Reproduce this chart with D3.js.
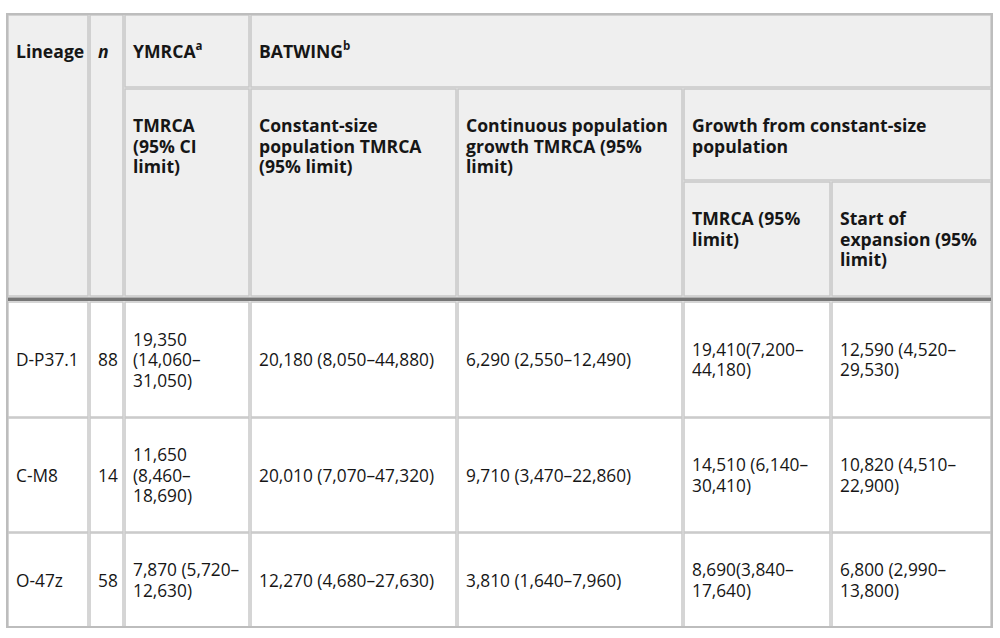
<!DOCTYPE html>
<html>
<head>
<meta charset="utf-8">
<script src="https://cdn.jsdelivr.net/npm/d3@7"></script>
<style>
  body { margin: 0; background: #fff; }
  svg { display: block; }
</style>
</head>
<body>
<div id="chart-area"></div>
<script>
// table data
var lineages = ["D-P37.1", "C-M8", "O-47z"];
var sampleSizes = ["88", "14", "58"];
var ymrcaTmrca = ["19,350 (14,060–31,050)", "11,650 (8,460–18,690)", "7,870 (5,720–12,630)"];
var constantSize = ["20,180 (8,050–44,880)", "20,010 (7,070–47,320)", "12,270 (4,680–27,630)"];
var continuousGrowth = ["6,290 (2,550–12,490)", "9,710 (3,470–22,860)", "3,810 (1,640–7,960)"];
var growthTmrca = ["19,410(7,200–44,180)", "14,510 (6,140–30,410)", "8,690(3,840–17,640)"];
var expansionStart = ["12,590 (4,520–29,530)", "10,820 (4,510–22,900)", "6,800 (2,990–13,800)"];

// header labels (c0..c1 columns, r0..r1 header rows)
var headers = [
    {lines: ["Lineage"], c0: 0, c1: 1, r0: 0, r1: 3},
    {lines: ["n"], c0: 1, c1: 2, r0: 0, r1: 3, italic: true},
    {lines: ["YMRCA"], sup: "a", c0: 2, c1: 3, r0: 0, r1: 1},
    {lines: ["BATWING"], sup: "b", c0: 3, c1: 7, r0: 0, r1: 1},
    {lines: ["TMRCA", "(95% CI", "limit)"], c0: 2, c1: 3, r0: 1, r1: 3},
    {lines: ["Constant-size", "population TMRCA", "(95% limit)"], c0: 3, c1: 4, r0: 1, r1: 3},
    {lines: ["Continuous population", "growth TMRCA (95%", "limit)"], c0: 4, c1: 5, r0: 1, r1: 3},
    {lines: ["Growth from constant-size", "population"], c0: 5, c1: 7, r0: 1, r1: 2},
    {lines: ["TMRCA (95%", "limit)"], c0: 5, c1: 6, r0: 2, r1: 3},
    {lines: ["Start of", "expansion (95%", "limit)"], c0: 6, c1: 7, r0: 2, r1: 3}
];

var columns = [lineages, sampleSizes, ymrcaTmrca, constantSize, continuousGrowth, growthTmrca, expansionStart];

// layout
var colEdges = [7, 89, 124, 250, 457, 683, 831, 992];
var headEdges = [14, 88, 181, 297];
var bodyEdges = [301, 417, 532, 627];
var wrapWidth = [70, 30, 110, 190, 210, 134, 146];
var lineH = 20.5;
var font = "'Open Sans', 'Noto Sans', sans-serif";
var bodySize = 17.3;
var headSize = 17.6;

var svg = d3.select("#chart-area").append("svg")
    .attr("width", 1000)
    .attr("height", 638);

var x = d3.scaleOrdinal().domain(d3.range(8)).range(colEdges);
var yHead = d3.scaleOrdinal().domain(d3.range(4)).range(headEdges);
var yBody = d3.scaleOrdinal().domain(d3.range(4)).range(bodyEdges);

function draw() {
    // header background
    svg.append("rect")
        .attr("x", colEdges[0]).attr("y", headEdges[0])
        .attr("width", colEdges[7] - colEdges[0])
        .attr("height", headEdges[3] - headEdges[0])
        .attr("fill", "#efefef");

    // header cells
    var hCells = svg.selectAll(".hcell")
        .data(headers)
        .enter().append("g")
        .attr("class", "hcell");

    hCells.append("rect")
        .attr("x", (d) => x(d.c0) + 1)
        .attr("y", (d) => yHead(d.r0) + 1)
        .attr("width", (d) => x(d.c1) - x(d.c0) - 2)
        .attr("height", (d) => yHead(d.r1) - yHead(d.r0) - 2)
        .attr("fill", "none")
        .attr("stroke", "#c8c8c8")
        .attr("stroke-width", 1.5);

    hCells.each(function(d) {
        var t = d3.select(this).append("text")
            .attr("font-family", font)
            .attr("font-size", headSize)
            .attr("font-weight", "bold")
            .attr("font-style", d.italic ? "italic" : "normal")
            .attr("fill", "#161616");
        var cy = yHead(d.r0) + 38;
        d.lines.forEach((ln, i) => {
            t.append("tspan")
                .attr("x", x(d.c0) + 9)
                .attr("y", cy + i * lineH + 6)
                .text(ln);
            if (d.sup && i == 0) {
                t.append("tspan")
                    .attr("font-size", 11.5)
                    .attr("y", cy + i * lineH - 2)
                    .text(d.sup);
            }
        });
    });

    // measuring helper for wrapping
    var meas = svg.append("text")
        .attr("font-family", font)
        .attr("font-size", bodySize)
        .attr("visibility", "hidden");

    function wrap(str, maxW) {
        var tokens = str.match(/[^ –]*[ –]?/g).filter((s) => s.length > 0);
        var lines = [];
        var cur = "";
        tokens.forEach((tk) => {
            var test = cur + tk;
            meas.text(test.trim());
            if (cur.length > 0 && meas.node().getComputedTextLength() > maxW) {
                lines.push(cur.trim());
                cur = tk;
            } else {
                cur = test;
            }
        });
        if (cur.length > 0) lines.push(cur.trim());
        return lines;
    }

    // body cells
    var bodyData = [];
    lineages.forEach((l, r) => {
        columns.forEach((col, c) => {
            bodyData.push({r: r, c: c, value: col[r]});
        });
    });

    var bCells = svg.selectAll(".bcell")
        .data(bodyData)
        .enter().append("g")
        .attr("class", "bcell");

    bCells.append("rect")
        .attr("x", (d) => x(d.c) + 1)
        .attr("y", (d) => yBody(d.r) + 1)
        .attr("width", (d) => x(d.c + 1) - x(d.c) - 2)
        .attr("height", (d) => yBody(d.r + 1) - yBody(d.r) - 1)
        .attr("fill", "#fff")
        .attr("stroke", "#c8c8c8")
        .attr("stroke-width", 1.5);

    bCells.each(function(d) {
        var lines = wrap(d.value, wrapWidth[d.c]);
        var mid = (yBody(d.r) + yBody(d.r + 1)) / 2 + 1;
        var y0 = mid - (lines.length - 1) * lineH / 2;
        var t = d3.select(this).append("text")
            .attr("font-family", font)
            .attr("font-size", bodySize)
            .attr("fill", "#161616");
        lines.forEach((ln, i) => {
            t.append("tspan")
                .attr("x", x(d.c) + 9)
                .attr("y", y0 + i * lineH)
                .attr("dy", "0.35em")
                .text(ln);
        });
    });

    meas.remove();

    // thick rule under the header
    svg.append("rect")
        .attr("x", colEdges[0]).attr("y", headEdges[3])
        .attr("width", colEdges[7] - colEdges[0])
        .attr("height", 1)
        .attr("fill", "#b0b0b0");
    svg.append("rect")
        .attr("x", colEdges[0]).attr("y", headEdges[3] + 1)
        .attr("width", colEdges[7] - colEdges[0])
        .attr("height", 3)
        .attr("fill", "#767676");

    // outer border
    svg.append("rect")
        .attr("x", colEdges[0]).attr("y", headEdges[0])
        .attr("width", colEdges[7] - colEdges[0])
        .attr("height", bodyEdges[3] - headEdges[0])
        .attr("fill", "none")
        .attr("stroke", "#bdbdbd")
        .attr("stroke-width", 2);
}

if (document.fonts && document.fonts.ready) {
    document.fonts.ready.then(draw);
} else {
    draw();
}
</script>
</body>
</html>
